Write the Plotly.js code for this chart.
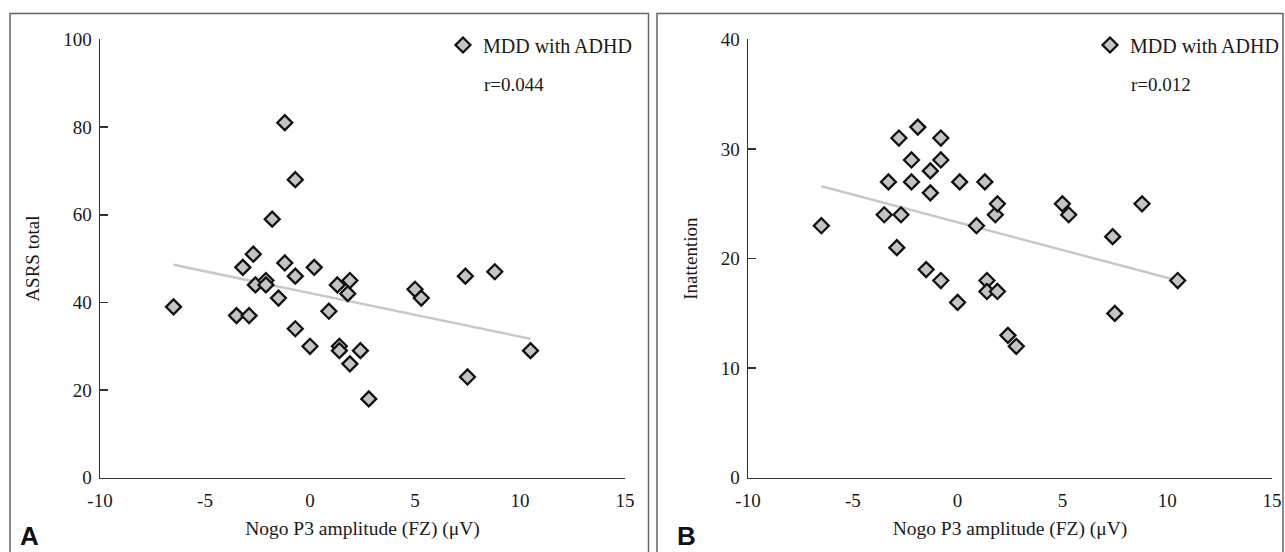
<!DOCTYPE html>
<html>
<head>
<meta charset="utf-8">
<script src="https://cdn.plot.ly/plotly-3.0.1.min.js"></script>
<style>
  html, body { margin: 0; padding: 0; background: #fff; }
  #chart { width: 1285px; height: 552px; }
</style>
</head>
<body>
<div id="chart"></div>
<script>
// ---- Data ----
const seriesName = "MDD with ADHD";
const xTickVals = [-10, -5, 0, 5, 10, 15];
const xTickText = ["-10", "-5", "0", "5", "10", "15"];
const yTickValsA = [0, 20, 40, 60, 80, 100];
const yTickValsB = [0, 10, 20, 30, 40];

// Panel A: Nogo P3 amplitude (x) vs ASRS total (y)
const ampA = [-6.5, -3.5, -2.9, -3.2, -2.7, -2.6, -2.1, -2.1, -1.8, -1.5, -1.2, -1.2, -0.7, -0.7, -0.7, 0.0,
              0.2, 0.9, 1.3, 1.4, 1.4, 1.8, 1.9, 1.9, 2.4, 2.8, 5.0, 5.3, 7.4, 7.5, 8.8, 10.5];
const asrsTotal = [39, 37, 37, 48, 51, 44, 45, 44, 59, 41, 81, 49, 68, 46, 34, 30,
                   48, 38, 44, 30, 29, 42, 45, 26, 29, 18, 43, 41, 46, 23, 47, 29];
const trendA_x = [-6.5, 10.5];
const trendA_y = [48.6, 31.7];
const rTextA = "r=0.044";

// Panel B: Nogo P3 amplitude (x) vs Inattention (y)
const ampB = [-6.5, -3.5, -3.3, -2.9, -2.8, -2.7, -2.2, -2.2, -1.9, -1.5, -1.3, -1.3, -0.8, -0.8, -0.8, 0.0,
              0.1, 0.9, 1.3, 1.4, 1.4, 1.8, 1.9, 1.9, 2.4, 2.8, 5.0, 5.3, 7.4, 7.5, 8.8, 10.5];
const inattention = [23, 24, 27, 21, 31, 24, 29, 27, 32, 19, 28, 26, 31, 29, 18, 16,
                     27, 23, 27, 18, 17, 24, 25, 17, 13, 12, 25, 24, 22, 15, 25, 18];
const trendB_x = [-6.5, 10.5];
const trendB_y = [26.6, 18.0];
const rTextB = "r=0.012";

const xTitle = "Nogo P3 amplitude (FZ) (μV)";
const yTitleA = "ASRS total";
const yTitleB = "Inattention";

// ---- Layout helpers (pixel -> paper) ----
const W = 1285, H = 552;
const px = v => v / W;
const py = v => 1 - v / H;

const SERIF = '"Liberation Serif", "Times New Roman", serif';
const TXT = '#1a1a1a';
const markerStyle = {symbol: 'diamond', size: 11.5, color: '#c4c4c4', line: {color: '#111', width: 2.3}};
const trendStyle = {color: '#c8c8c8', width: 2.5};

const traces = [
  {x: trendA_x, y: trendA_y, xaxis: 'x', yaxis: 'y', mode: 'lines', line: trendStyle, showlegend: false, hoverinfo: 'skip'},
  {x: ampA, y: asrsTotal, xaxis: 'x', yaxis: 'y', mode: 'markers', marker: markerStyle, name: seriesName, legend: 'legend'},
  {x: trendB_x, y: trendB_y, xaxis: 'x2', yaxis: 'y2', mode: 'lines', line: trendStyle, showlegend: false, hoverinfo: 'skip'},
  {x: ampB, y: inattention, xaxis: 'x2', yaxis: 'y2', mode: 'markers', marker: markerStyle, name: seriesName, legend: 'legend2'}
];

const yDomain = [py(477.8), py(39.4)];

function xAxis(domain, anchor) {
  return {
    domain: domain, anchor: anchor, range: [-10, 15], fixedrange: true,
    tickvals: xTickVals, ticktext: xTickText, ticks: '', showgrid: false, zeroline: false,
    showline: true, linecolor: '#333', linewidth: 1.5,
    tickfont: {family: SERIF, size: 19, color: TXT},
    ticklabelstandoff: 5,
    title: {text: xTitle, font: {family: SERIF, size: 19.5, color: TXT}, standoff: 11}
  };
}
function yAxis(range, vals, anchor, title) {
  return {
    domain: yDomain, anchor: anchor, range: range, fixedrange: true,
    tickvals: vals, ticks: 'inside', ticklen: 8, tickwidth: 1.5, tickcolor: '#333',
    showgrid: false, zeroline: false, showline: true, linecolor: '#333', linewidth: 1.5,
    tickfont: {family: SERIF, size: 19, color: TXT},
    ticklabelstandoff: 3,
    title: {text: title, font: {family: SERIF, size: 19, color: TXT}, standoff: 18}
  };
}

const legendBase = {
  font: {family: SERIF, size: 20, color: TXT}, bgcolor: 'rgba(0,0,0,0)',
  xanchor: 'left', yanchor: 'middle', borderwidth: 0, itemclick: false, itemdoubleclick: false
};

const layout = {
  width: W, height: H,
  margin: {l: 0, r: 0, t: 0, b: 0},
  paper_bgcolor: '#fff', plot_bgcolor: '#fff',
  font: {family: SERIF, size: 19, color: TXT},
  xaxis: xAxis([px(100), px(625)], 'y'),
  yaxis: yAxis([0, 100], yTickValsA, 'x', yTitleA),
  xaxis2: xAxis([px(748), px(1272)], 'y2'),
  yaxis2: yAxis([0, 40], yTickValsB, 'x2', yTitleB),
  legend: Object.assign({}, legendBase, {x: px(443), y: py(45)}),
  legend2: Object.assign({}, legendBase, {x: px(1090), y: py(45)}),
  shapes: [
    {type: 'rect', xref: 'paper', yref: 'paper', x0: px(10), x1: px(648.5), y0: -0.1, y1: py(13.5),
     line: {color: '#666', width: 1.5}},
    {type: 'rect', xref: 'paper', yref: 'paper', x0: px(657), x1: px(1283), y0: -0.1, y1: py(13.5),
     line: {color: '#666', width: 1.5}}
  ],
  annotations: [
    {text: rTextA, xref: 'paper', yref: 'paper', x: px(482), y: py(84), xanchor: 'left', yanchor: 'middle',
     showarrow: false, font: {family: SERIF, size: 19, color: TXT}},
    {text: rTextB, xref: 'paper', yref: 'paper', x: px(1129), y: py(84), xanchor: 'left', yanchor: 'middle',
     showarrow: false, font: {family: SERIF, size: 19, color: TXT}},
    {text: '<b>A</b>', xref: 'paper', yref: 'paper', x: px(29), y: py(536), xanchor: 'center', yanchor: 'middle',
     showarrow: false, font: {family: '"Liberation Sans", Arial, sans-serif', size: 26, color: '#111'}},
    {text: '<b>B</b>', xref: 'paper', yref: 'paper', x: px(686), y: py(536), xanchor: 'center', yanchor: 'middle',
     showarrow: false, font: {family: '"Liberation Sans", Arial, sans-serif', size: 26, color: '#111'}}
  ]
};

Plotly.newPlot('chart', traces, layout, {staticPlot: true, displayModeBar: false});
</script>
</body>
</html>
